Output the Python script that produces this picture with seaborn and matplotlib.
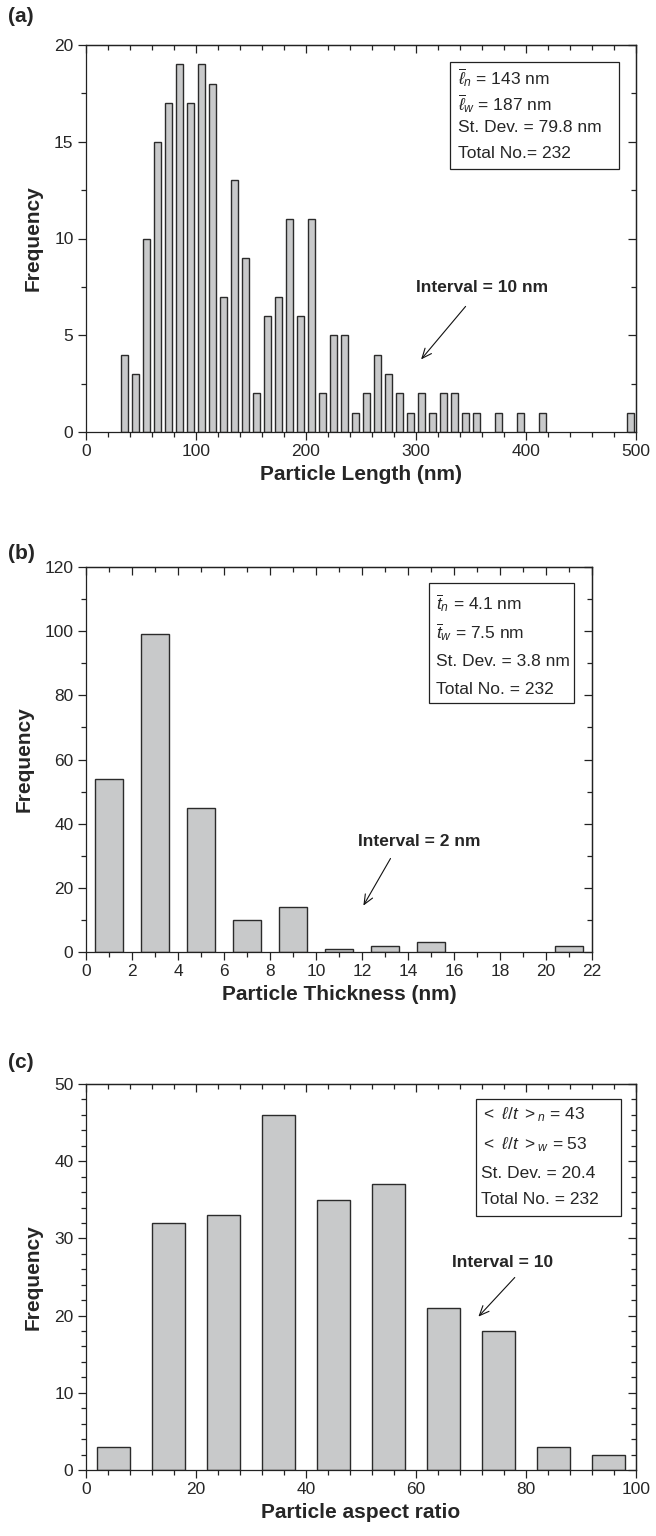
import numpy as np
import pandas as pd
import matplotlib
matplotlib.use("Agg")
import matplotlib.pyplot as plt
import seaborn as sns
from matplotlib.ticker import MultipleLocator, NullFormatter
from matplotlib.patches import Rectangle

# ---------------- data ----------------
length_centers = [35, 45, 55, 65, 75, 85, 95, 105, 115, 125, 135, 145, 155, 165, 175,
                  185, 195, 205, 215, 225, 235, 245, 255, 265, 275, 285, 295, 305, 315,
                  325, 335, 345, 355, 375, 395, 415, 495]
length_counts = [4, 3, 10, 15, 17, 19, 17, 19, 18, 7, 13, 9, 2, 6, 7,
                 11, 6, 11, 2, 5, 5, 1, 2, 4, 3, 2, 1, 2, 1,
                 2, 2, 1, 1, 1, 1, 1, 1]

thick_centers = [1, 3, 5, 7, 9, 11, 13, 15, 21]
thick_counts = [54, 99, 45, 10, 14, 1, 2, 3, 2]

ar_centers = [5, 15, 25, 35, 45, 55, 65, 75, 85, 95]
ar_counts = [3, 32, 33, 46, 35, 37, 21, 18, 3, 2]

box_a = [r"$\overline{\ell}_{n}$ = 143 nm", r"$\overline{\ell}_{w}$ = 187 nm",
         "St. Dev. = 79.8 nm", "Total No.= 232"]
box_b = [r"$\overline{t}_{n}$ = 4.1 nm", r"$\overline{t}_{w}$ = 7.5 nm",
         "St. Dev. = 3.8 nm", "Total No. = 232"]
box_c = [r"$\mathrm{<}\ \ell/t\ \mathrm{>}_{n}$ = 43", r"$\mathrm{<}\ \ell/t\ \mathrm{>}_{w}$ = 53",
         "St. Dev. = 20.4", "Total No. = 232"]

# ---------------- style ----------------
sns.set_style("ticks")
plt.rcParams["font.family"] = ["Liberation Sans", "DejaVu Sans"]
plt.rcParams["mathtext.fontset"] = "custom"
plt.rcParams["mathtext.rm"] = "Liberation Sans"
plt.rcParams["mathtext.it"] = "Liberation Sans:italic"
plt.rcParams["mathtext.bf"] = "Liberation Sans:bold"

BAR = "#c8c9ca"
EDGE = "#2b2b2b"
TICK_FS = 12.5
LAB_FS = 15
BOX_FS = 12.5
INT_FS = 12.5

fig = plt.figure(figsize=(6.56, 15.36), dpi=100)
W, H = 656, 1536


def add_ax(left, right, top, bottom):
    return fig.add_axes([left / W, 1 - bottom / H, (right - left) / W, (bottom - top) / H])


def style(ax, xlim, ylim, xmaj, xmin, ymaj, ymin):
    ax.set_xlim(*xlim)
    ax.set_ylim(*ylim)
    ax.xaxis.set_major_locator(MultipleLocator(xmaj))
    ax.xaxis.set_minor_locator(MultipleLocator(xmin))
    ax.yaxis.set_major_locator(MultipleLocator(ymaj))
    ax.yaxis.set_minor_locator(MultipleLocator(ymin))
    ax.tick_params(which="both", direction="out", top=False, right=False,
                   labelsize=TICK_FS, width=0.9, color="#222222", pad=3)
    ax.tick_params(which="major", length=6)
    ax.tick_params(which="minor", length=3.5)
    for s in ax.spines.values():
        s.set_linewidth(0.9)
        s.set_color("#222222")
        s.set_visible(True)
    sx = ax.secondary_xaxis("top")
    sx.xaxis.set_major_locator(MultipleLocator(xmaj))
    sx.xaxis.set_minor_locator(MultipleLocator(xmin))
    sx.xaxis.set_major_formatter(NullFormatter())
    sx.tick_params(which="both", direction="in", width=0.9, color="#222222")
    sx.tick_params(which="major", length=6)
    sx.tick_params(which="minor", length=3.5)
    sx.spines["top"].set_linewidth(0.9)
    sy = ax.secondary_yaxis("right")
    sy.yaxis.set_major_locator(MultipleLocator(ymaj))
    sy.yaxis.set_minor_locator(MultipleLocator(ymin))
    sy.yaxis.set_major_formatter(NullFormatter())
    sy.tick_params(which="both", direction="in", width=0.9, color="#222222")
    sy.tick_params(which="major", length=6)
    sy.tick_params(which="minor", length=3.5)
    sy.spines["right"].set_linewidth(0.9)


def bars(ax, centers, counts):
    df = pd.DataFrame({"x": centers, "y": counts})
    sns.barplot(data=df, x="x", y="y", ax=ax, native_scale=True, orient="x",
                width=0.6, color=BAR, saturation=1, edgecolor=EDGE,
                linewidth=1.0, errorbar=None)


def textbox(ax, rect, lines, x0, ys):
    x, y, w, h = rect
    ax.add_patch(Rectangle((x, y), w, h, fill=False, edgecolor="#222222",
                           linewidth=0.9, zorder=5))
    for t, yy in zip(lines, ys):
        ax.text(x0, yy, t, fontsize=BOX_FS, va="center", ha="left", zorder=6)


arrow_kw = dict(arrowstyle="->,head_length=0.7,head_width=0.3", color="#111111", lw=0.8)

# ---------------- panel (a) ----------------
axa = add_ax(86, 636, 45, 432)
bars(axa, length_centers, length_counts)
style(axa, (0, 500), (0, 20), 100, 20, 5, 2.5)
axa.set_xlabel("Particle Length (nm)", fontsize=LAB_FS, fontweight="bold", labelpad=4)
axa.set_ylabel("Frequency", fontsize=LAB_FS, fontweight="bold", labelpad=8)
textbox(axa, (330.7, 13.6, 154, 5.5), box_a, 338, [18.3, 17.0, 15.75, 14.4])
axa.annotate("", xy=(303, 3.64), xytext=(346.7, 6.6), arrowprops=arrow_kw)
axa.text(300, 7.45, "Interval = 10 nm", fontsize=INT_FS, fontweight="bold",
         ha="left", va="center")
fig.text(8 / W, 1 - 16 / H, "(a)", fontsize=15, fontweight="bold", va="center")

# ---------------- panel (b) ----------------
axb = add_ax(86, 592, 567, 952)
bars(axb, thick_centers, thick_counts)
style(axb, (0, 22), (0, 120), 2, 1, 20, 10)
axb.set_xlabel("Particle Thickness (nm)", fontsize=LAB_FS, fontweight="bold", labelpad=4)
axb.set_ylabel("Frequency", fontsize=LAB_FS, fontweight="bold", labelpad=8)
textbox(axb, (14.9, 77.6, 6.3, 37.4), box_b, 15.2, [108.8, 99.7, 90.7, 81.9])
axb.annotate("", xy=(12.0, 13.7), xytext=(13.3, 29.9), arrowprops=arrow_kw)
axb.text(14.5, 34.3, "Interval = 2 nm", fontsize=INT_FS, fontweight="bold",
         ha="center", va="center")
fig.text(8 / W, 1 - 553 / H, "(b)", fontsize=15, fontweight="bold", va="center")

# ---------------- panel (c) ----------------
axc = add_ax(86, 636, 1084, 1470)
bars(axc, ar_centers, ar_counts)
style(axc, (0, 100), (0, 50), 20, 4, 10, 2)
axc.set_xlabel("Particle aspect ratio", fontsize=LAB_FS, fontweight="bold", labelpad=4)
axc.set_ylabel("Frequency", fontsize=LAB_FS, fontweight="bold", labelpad=8)
textbox(axc, (70.9, 32.9, 26.3, 15.1), box_c, 71.8, [46.0, 42.2, 38.4, 35.1])
axc.annotate("", xy=(71.0, 19.6), xytext=(78.3, 25.2), arrowprops=arrow_kw)
axc.text(75.8, 26.9, "Interval = 10", fontsize=INT_FS, fontweight="bold",
         ha="center", va="center")
fig.text(8 / W, 1 - 1062 / H, "(c)", fontsize=15, fontweight="bold", va="center")

fig.savefig("out.png", dpi=100)
